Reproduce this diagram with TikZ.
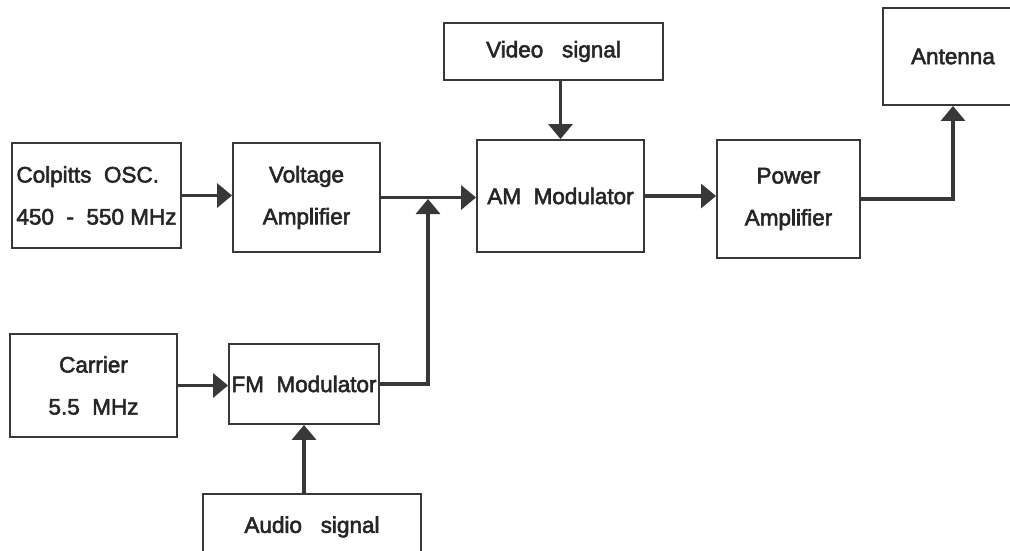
\documentclass[tikz,border=0pt]{standalone}
\usepackage{fontspec}
\setmainfont{Liberation Sans}
\newfontfamily\scanfont{Liberation Sans}[FakeBold=2.5]
\usetikzlibrary{arrows.meta}
\definecolor{inkgray}{HTML}{383838}
\newcommand{\blockarrowstyle}{-{Triangle[length=15pt,width=24pt]}}

\begin{document}
\begin{tikzpicture}[
    x=1pt, y=-1pt,
    font=\scanfont\fontsize{22.5}{42}\selectfont,
    sig/.style={\blockarrowstyle, draw=inkgray, line width=3.2pt},
    blk/.style={draw=inkgray, line width=1.9pt, text=black!85, inner sep=0pt, align=center}
]
  \useasboundingbox (0,0) rectangle (1010,550);

  % top row
  \node[blk, align=left, minimum width=169pt, minimum height=105pt] (osc) at (96.5,195.5) {Colpitts\ \ OSC.\\450\ \ -\ \ 550\ MHz};
  \node[blk, minimum width=147pt, minimum height=109pt] (vamp) at (306.5,197.5) {Voltage\\Amplifier};
  \node[blk, minimum width=219pt, minimum height=57pt] (video) at (553.5,51.5) {Video\ \ \ signal};
  \node[blk, minimum width=167pt, minimum height=112pt] (am) at (560.5,196) {AM\ \ Modulator};
  \node[blk, minimum width=143pt, minimum height=118pt] (pamp) at (788.5,199) {Power\\Amplifier};
  \node[blk, minimum width=140pt, minimum height=97pt] (ant) at (953,56.5) {Antenna};

  % bottom row
  \node[blk, minimum width=167pt, minimum height=103pt] (carrier) at (93.5,385.5) {Carrier\\5.5\ \ MHz};
  \node[blk, minimum width=150pt, minimum height=80pt] (fm) at (304,384) {FM\ \ Modulator};
  \node[blk, minimum width=218pt, minimum height=66pt] (audio) at (312,527) {Audio\ \ \ signal};

  \coordinate (join) at (428,199);

  \draw[sig] (osc.east) -- (osc.east -| vamp.west);
  \draw[sig] (vamp.east) -- (vamp.east -| am.west);
  \draw[sig] (fm.east) -| (join);
  \draw[sig] (video.south -| am.north) -- (am.north);
  \draw[sig] (am.east) -- (am.east -| pamp.west);
  \draw[sig] (pamp.east) -| (ant.south);
  \draw[sig] (carrier.east) -- (carrier.east -| fm.west);
  \draw[sig] (fm.south |- audio.north) -- (fm.south);
\end{tikzpicture}
\end{document}
